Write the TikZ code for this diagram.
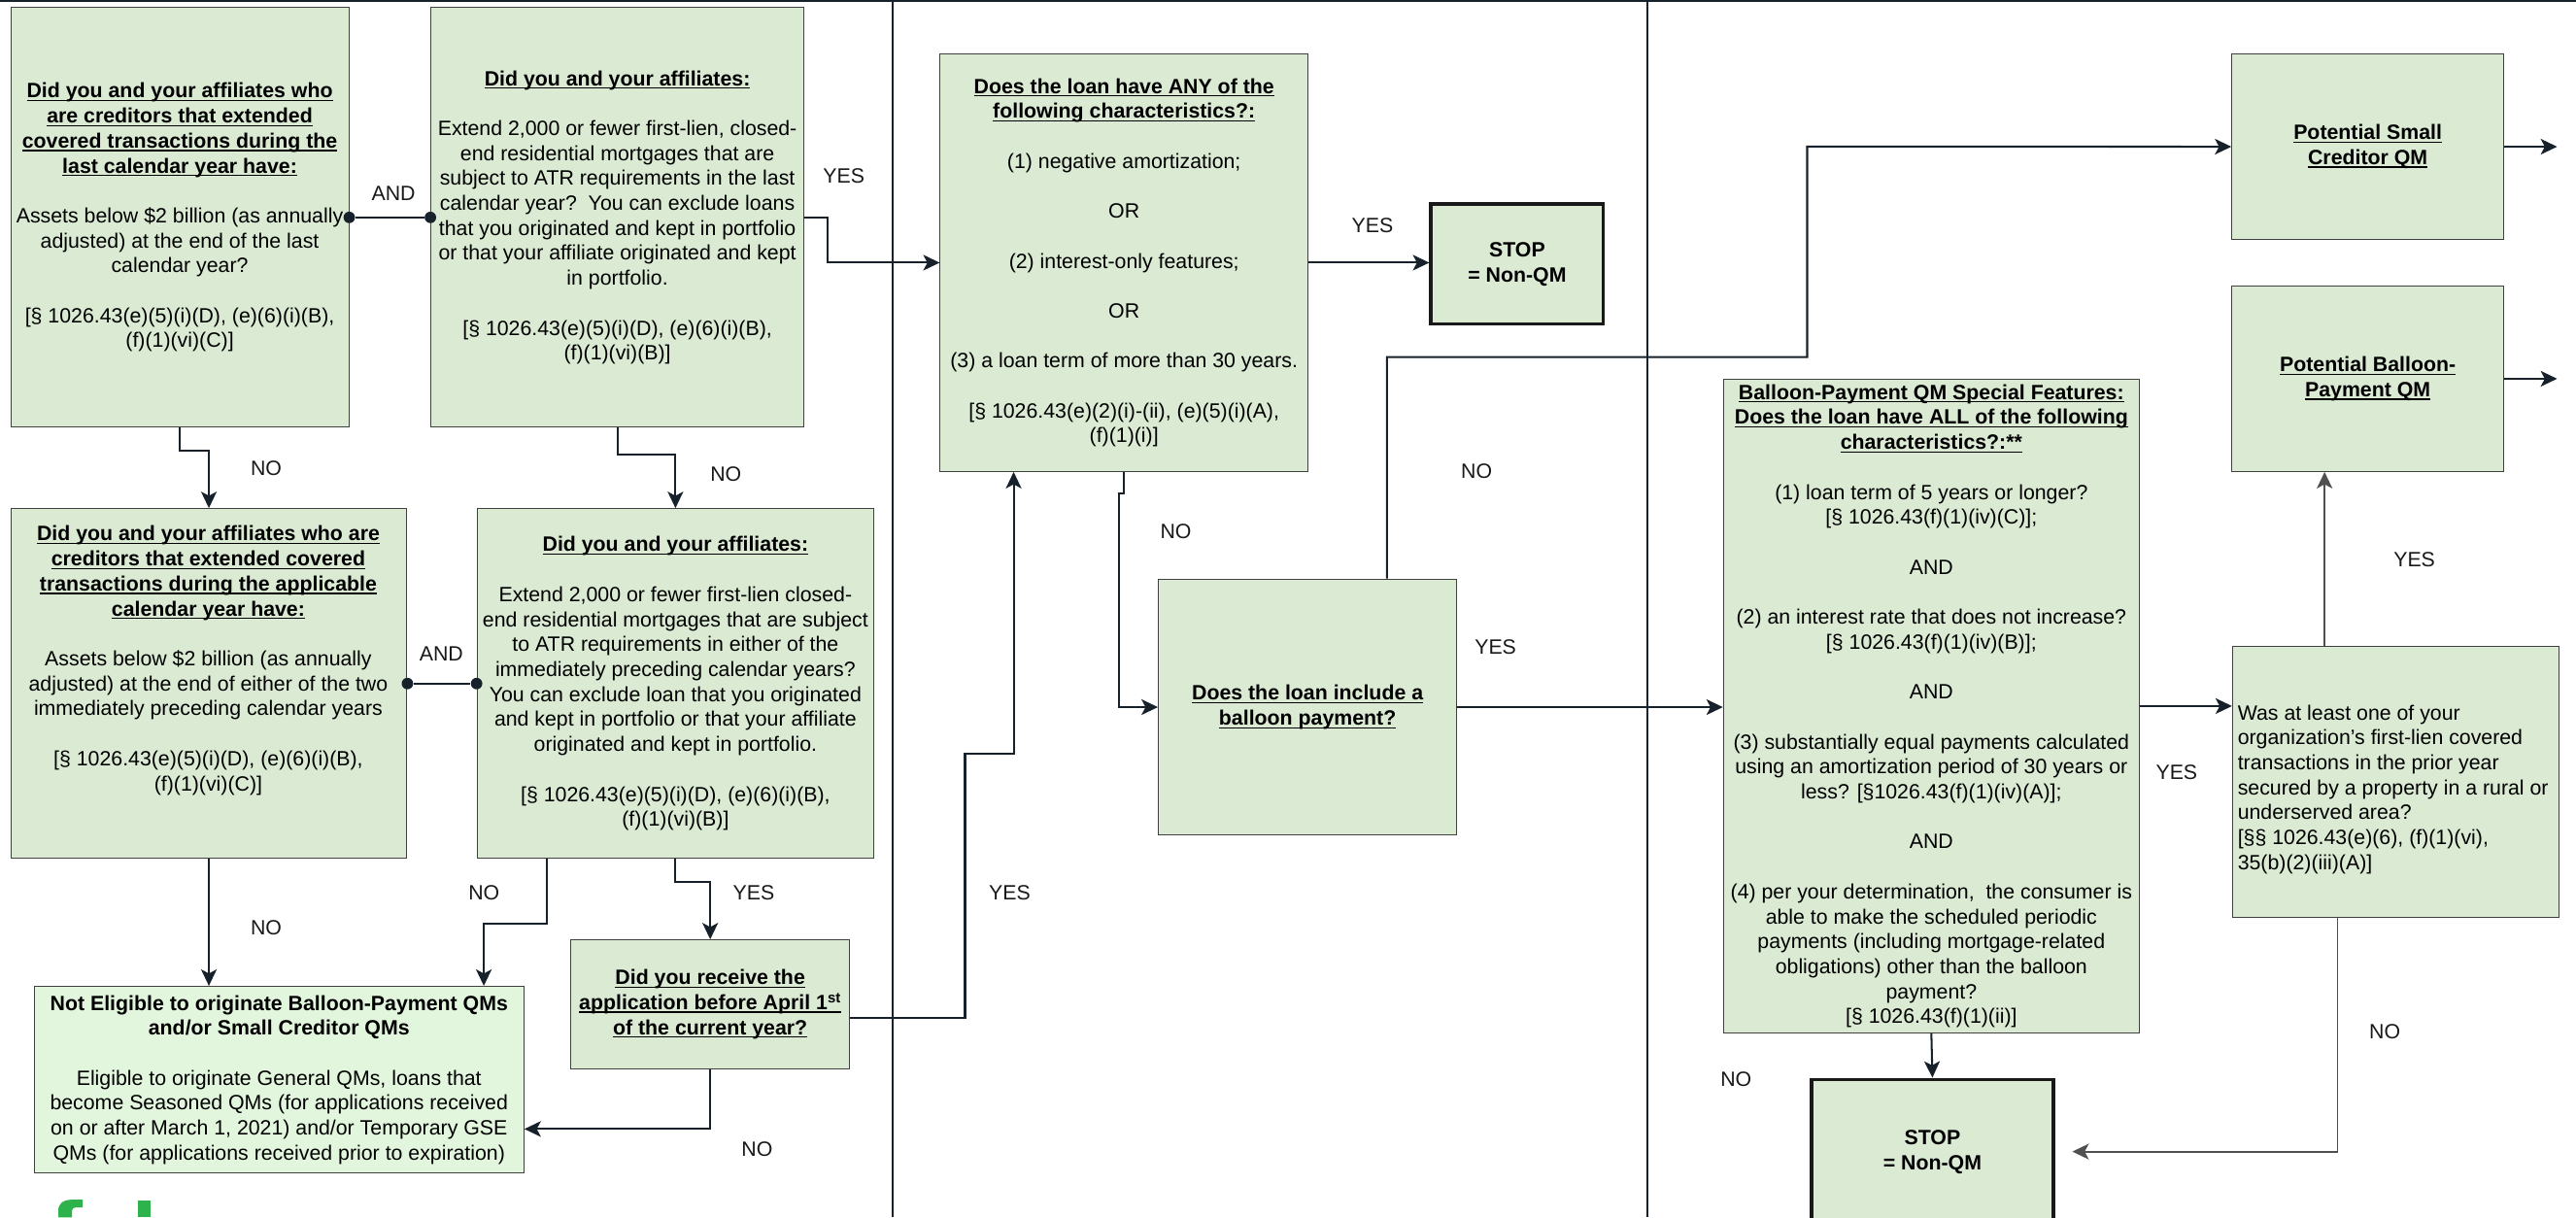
\documentclass[tikz,border=0pt]{standalone}
\usepackage{fontspec}
\setmainfont{Liberation Sans}
\usetikzlibrary{arrows.meta}
\definecolor{boxg}{HTML}{DAEAD3}
\definecolor{boxf}{HTML}{E2F6DD}
\definecolor{bordc}{HTML}{404040}
\definecolor{linec}{HTML}{17212B}
\definecolor{grayc}{HTML}{505050}
\definecolor{logog}{HTML}{2EB24B}
\newcommand\myul[1]{\setbox0=\hbox{#1}\rlap{\rule[-1.9pt]{\wd0}{0.7pt}}\box0}
\newcommand\myttl[1]{\myul{\bfseries #1}}
\newcommand\mystrutA{\rule{0pt}{9.3pt}}
\newcommand\mystrutB{\rule[-2.7pt]{0pt}{2.7pt}}
\newcommand\mybl{15.2pt}
\tikzset{
  box/.style={draw=bordc, line width=0.6pt, fill=boxg, inner sep=0pt, align=center, anchor=north west},
  stopbox/.style={box, draw=black!90, line width=2.2pt},
  txt/.style={inner sep=0pt, align=center},
  lbl/.style={inner sep=0pt, text=black!90},
  conn/.style={draw=linec, line width=1.2pt, -{Stealth[length=10pt,width=9.5pt,inset=2.5pt]}},
  gconn/.style={conn, draw=grayc, line width=1.1pt},
  plain/.style={draw=linec, line width=1.2pt},
  dot/.style={circle, fill=linec, inner sep=0pt, minimum size=7pt}
}
\begin{document}
\begin{tikzpicture}[x=1pt, y=-1pt, font=\fontsize{12.6}{15.2}\selectfont]
\useasboundingbox (0,0) rectangle (1568,741);
\clip (0,0) rectangle (1568,741);
\fill[white] (0,0) rectangle (1568,741);

% frame lines
\draw[plain] (0,0.6) -- (1568,0.6);
\draw[plain] (543.6,0) -- (543.6,741);
\draw[plain] (1002.8,0) -- (1002.8,741);

% ---------- column 1 ----------
\node[box, minimum width=205.75pt, minimum height=255.5pt] (A) at (6.25,4.3) {%
\mystrutA\myttl{Did you and your affiliates who}\\
\myttl{are creditors that extended}\\
\myttl{covered transactions during the}\\
\myttl{last calendar year have:}\\[\mybl]
Assets below \$2 billion (as annually\\
adjusted) at the end of the last\\
calendar year?\\[\mybl]
{[}§ 1026.43(e)(5)(i)(D), (e)(6)(i)(B),\\
(f)(1)(vi)(C)]\mystrutB};

\node[box, minimum width=227pt, minimum height=255.5pt] (B) at (262,4.3) {%
\mystrutA\myttl{Did you and your affiliates:}\\[\mybl]
Extend 2,000 or fewer first-lien, closed-\\
end residential mortgages that are\\
subject to ATR requirements in the last\\
calendar year?\ \ You can exclude loans\\
that you originated and kept in portfolio\\
or that your affiliate originated and kept\\
in portfolio.\\[\mybl]
{[}§ 1026.43(e)(5)(i)(D), (e)(6)(i)(B),\\
(f)(1)(vi)(B)]\mystrutB};

\node[box, minimum width=241.1pt, minimum height=213pt] (C) at (6.3,309.3) {};
\node[txt] (Ct) at (126.8,402) {%
\mystrutA\myttl{Did you and your affiliates who are}\\
\myttl{creditors that extended covered}\\
\myttl{transactions during the applicable}\\
\myttl{calendar year have:}\\[\mybl]
Assets below \$2 billion (as annually\\
adjusted) at the end of either of the two\\
immediately preceding calendar years\\[\mybl]
{[}§ 1026.43(e)(5)(i)(D), (e)(6)(i)(B),\\
(f)(1)(vi)(C)]\mystrutB};

\node[box, minimum width=241.5pt, minimum height=213pt] (E) at (290.1,309.3) {%
\mystrutA\myttl{Did you and your affiliates:}\\[\mybl]
Extend 2,000 or fewer first-lien closed-\\
end residential mortgages that are subject\\
to ATR requirements in either of the\\
immediately preceding calendar years?\\
You can exclude loan that you originated\\
and kept in portfolio or that your affiliate\\
originated and kept in portfolio.\\[\mybl]
{[}§ 1026.43(e)(5)(i)(D), (e)(6)(i)(B),\\
(f)(1)(vi)(B)]\mystrutB};

\node[box, fill=boxf, minimum width=298.1pt, minimum height=113.7pt] (F) at (20.5,600.1) {%
\mystrutA\textbf{Not Eligible to originate Balloon-Payment QMs}\\
\textbf{and/or Small Creditor QMs}\\[\mybl]
Eligible to originate General QMs, loans that\\
become Seasoned QMs (for applications received\\
on or after March 1, 2021) and/or Temporary GSE\\
QMs (for applications received prior to expiration)\mystrutB};

\node[box, minimum width=170pt, minimum height=78.3pt] (G) at (347,571.8) {%
\mystrutA\myttl{Did you receive the}\\
\myttl{application before April 1\textsuperscript{st}}\\
\myttl{of the current year?}\mystrutB};

% AND connectors
\node[dot] (dA) at (A.east) {};
\node[dot] (dB) at (B.west) {};
\draw[plain] (dA) -- (dB);
\node[dot] (dC) at (C.east) {};
\node[dot] (dE) at (E.west) {};
\draw[plain] (dC) -- (dE);

% ---------- column 2 ----------
\node[box, minimum width=223.8pt, minimum height=254.2pt] (D) at (572,32.5) {%
\mystrutA\myttl{Does the loan have ANY of the}\\
\myttl{following characteristics?:}\\[\mybl]
(1) negative amortization;\\[\mybl]
OR\\[\mybl]
(2) interest-only features;\\[\mybl]
OR\\[\mybl]
(3) a loan term of more than 30 years.\\[\mybl]
{[}§ 1026.43(e)(2)(i)-(ii), (e)(5)(i)(A),\\
(f)(1)(i)]\mystrutB};

\node[stopbox, minimum width=104.8pt, minimum height=72.9pt] (S1) at (870,123.2) {%
\mystrutA\textbf{STOP}\\
\textbf{= Non-QM}\mystrutB};

\node[box, minimum width=181.6pt, minimum height=155.9pt] (H) at (704.8,352.2) {%
\mystrutA\myttl{Does the loan include a}\\
\myttl{balloon payment?}\mystrutB};

% ---------- column 3 ----------
\node[box, minimum width=165.5pt, minimum height=113pt] (I) at (1358.2,32.5) {%
\mystrutA\myttl{Potential Small}\\
\myttl{Creditor QM}\mystrutB};

\node[box, minimum width=165.5pt, minimum height=112.9pt] (J) at (1358.2,173.8) {%
\mystrutA\myttl{Potential Balloon-}\\
\myttl{Payment QM}\mystrutB};

\node[box, minimum width=253.2pt, minimum height=397.8pt] (K) at (1048.7,230.6) {%
\mystrutA\myttl{Balloon-Payment QM Special Features:}\\
\myttl{Does the loan have ALL of the following}\\
\myttl{characteristics?:**}\\[\mybl]
(1) loan term of 5 years or longer?\\
{[}§ 1026.43(f)(1)(iv)(C)];\\[\mybl]
AND\\[\mybl]
(2) an interest rate that does not increase?\\
{[}§ 1026.43(f)(1)(iv)(B)];\\[\mybl]
AND\\[\mybl]
(3) substantially equal payments calculated\\
using an amortization period of 30 years or\\
less? [§1026.43(f)(1)(iv)(A)];\\[\mybl]
AND\\[\mybl]
(4) per your determination,\ \ the consumer is\\
able to make the scheduled periodic\\
payments (including mortgage-related\\
obligations) other than the balloon\\
payment?\\
{[}§ 1026.43(f)(1)(ii)]\mystrutB};

\node[stopbox, minimum width=147.3pt, minimum height=87.8pt] (S2) at (1101.5,656) {%
\mystrutA\textbf{STOP}\\
\textbf{= Non-QM}\mystrutB};

\node[box, minimum width=198.9pt, minimum height=164.7pt] (L) at (1358.6,393.3) {};
\node[txt, align=left, anchor=west] (Lt) at (1361.9,480.5) {%
\mystrutA Was at least one of your\\
organization's first-lien covered\\
transactions in the prior year\\
secured by a property in a rural or\\
underserved area?\\
{[}§§ 1026.43(e)(6), (f)(1)(vi),\\
35(b)(2)(iii)(A)]\mystrutB};

\coordinate (Iout) at (1556.5,89);
\coordinate (Jout) at (1556.5,230.25);

% ---------- connectors ----------
\draw[conn] (A.south) -- ++(0,14.2) -| (C.north);
\draw[conn] (B.south) -- ++(0,16.2) -| (E.north);
\draw[conn] (B.east) -- ++(14.2,0) |- (D.west);
\draw[conn] (D.east) -- (D.east -| S1.west);
\draw[conn] (C.south) -- (C.south |- F.north);
\draw[conn] ([xshift=-78.4pt]E.south) -- ++(0,39.5) -| ([xshift=-24.7pt]F.north east);
\draw[conn] (E.south) -- ++(0,14.2) -| (G.north);
\draw[conn] (G.south) |- ([yshift=-30pt]F.east);
\draw[conn] ([yshift=-8.4pt]G.east) -| ++(69.8,-161) -| ([xshift=-67.2pt]D.south);
\draw[conn] (D.south) -- ++(0,13.3) -- ++(-3.3,0) |- (H.west);
\draw[conn] ([xshift=48.3pt]H.north) -- ++(0,-134.9) -| ++(255.8,-128.1) -- (I.west);
\draw[conn] (H.east) -- (H.east -| K.west);
\draw[conn] (I.east) -- (I.east -| Iout);
\draw[conn] (J.east) -- (J.east -| Jout);
\draw[conn] (K.south) -- (S2.north);
\draw[conn] (K.east) -- (K.east -| L.west);
\draw[gconn] ([xshift=-43.4pt]L.north) -- ([xshift=-43.4pt]L.north |- J.south);
\draw[gconn] ([xshift=-35.5pt]L.south) |- ([xshift=10.4pt]S2.east);

% ---------- labels ----------
\node[lbl] (l1) at (239.5,117.7) {AND};
\node[lbl] (l2) at (513.6,107) {YES};
\node[lbl] (l3) at (162,284.8) {NO};
\node[lbl] (l4) at (441.8,288.4) {NO};
\node[lbl] (l5) at (268.6,398) {AND};
\node[lbl] (l6) at (162,565) {NO};
\node[lbl] (l7) at (294.6,543.6) {NO};
\node[lbl] (l8) at (458.8,543.6) {YES};
\node[lbl] (l9) at (460.8,699.8) {NO};
\node[lbl] (l10) at (614.6,543.6) {YES};
\node[lbl] (l11) at (835.4,137.3) {YES};
\node[lbl] (l12) at (715.7,323.5) {NO};
\node[lbl] (l13) at (898.8,286.7) {NO};
\node[lbl] (l14) at (910.3,393.7) {YES};
\node[lbl] (l15) at (1056.7,657) {NO};
\node[lbl] (l16) at (1324.9,470) {YES};
\node[lbl] (l17) at (1469.6,340.6) {YES};
\node[lbl] (l18) at (1451.6,628.1) {NO};

% ---------- logo fragment ----------
\fill[logog] (35.5,741) -- (35.5,737) .. controls (35.5,732.5) and (38.5,730.3) .. (43.5,730.3) -- (50.3,730.3) -- (50.3,735) -- (46,735) .. controls (44.6,735) and (43.8,735.6) .. (43.8,737.2) -- (43.8,741) -- cycle;
\fill[logog] (83.8,731) rectangle (91.7,741);
\end{tikzpicture}
\end{document}
